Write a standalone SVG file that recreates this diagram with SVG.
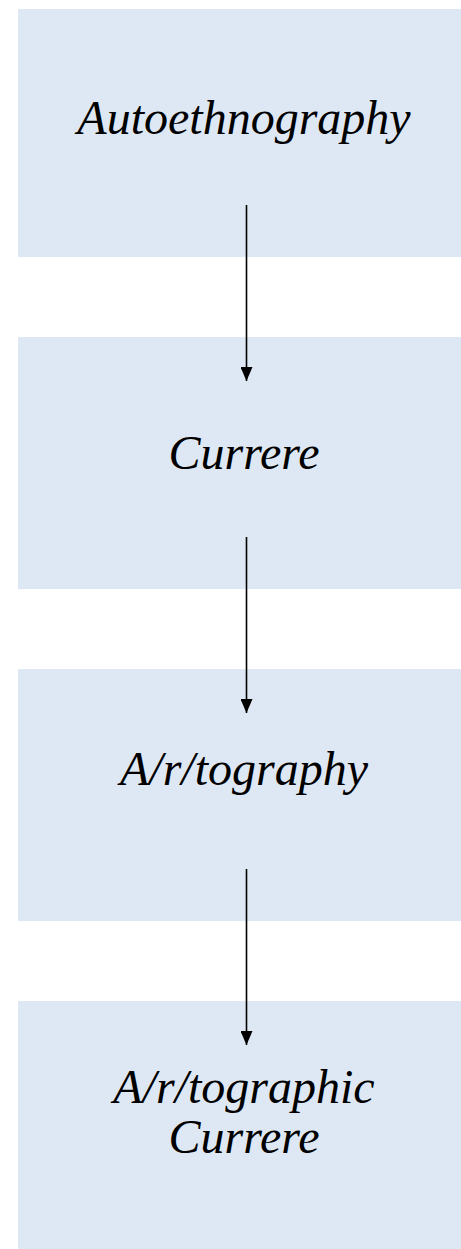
<svg xmlns="http://www.w3.org/2000/svg" width="461" height="1249" viewBox="0 0 461 1249">
<style>
.box{fill:#dee8f4}
.lbl{font-family:"Liberation Serif","Times New Roman",serif;font-style:italic;font-size:48px;fill:#000;text-anchor:middle}
.con{stroke:#000;stroke-width:1.6;fill:none}
</style>
<defs>
<marker id="ah" viewBox="0 0 14 12" refX="14" refY="6" markerWidth="14" markerHeight="12" markerUnits="userSpaceOnUse" orient="auto">
<path d="M0,0 L14,6 L0,12 z" fill="#000"/>
</marker>
</defs>
<g id="n1"><rect class="box" x="18" y="9" width="443" height="248"/><text class="lbl" x="244" y="134">Autoethnography</text></g>
<g id="n2"><rect class="box" x="18" y="337" width="443" height="252"/><text class="lbl" x="244" y="469">Currere</text></g>
<g id="n3"><rect class="box" x="18" y="669" width="443" height="252"/><text class="lbl" x="244" y="785">A/r/tography</text></g>
<g id="n4"><rect class="box" x="18" y="1001" width="443" height="248"/><text class="lbl" x="244" y="1103">A/r/tographic</text><text class="lbl" x="244" y="1153">Currere</text></g>
<g id="connectors">
<line class="con" x1="246.5" y1="205" x2="246.5" y2="381" marker-end="url(#ah)"/>
<line class="con" x1="246.5" y1="537" x2="246.5" y2="713" marker-end="url(#ah)"/>
<line class="con" x1="246.5" y1="869" x2="246.5" y2="1045" marker-end="url(#ah)"/>
</g>
</svg>
